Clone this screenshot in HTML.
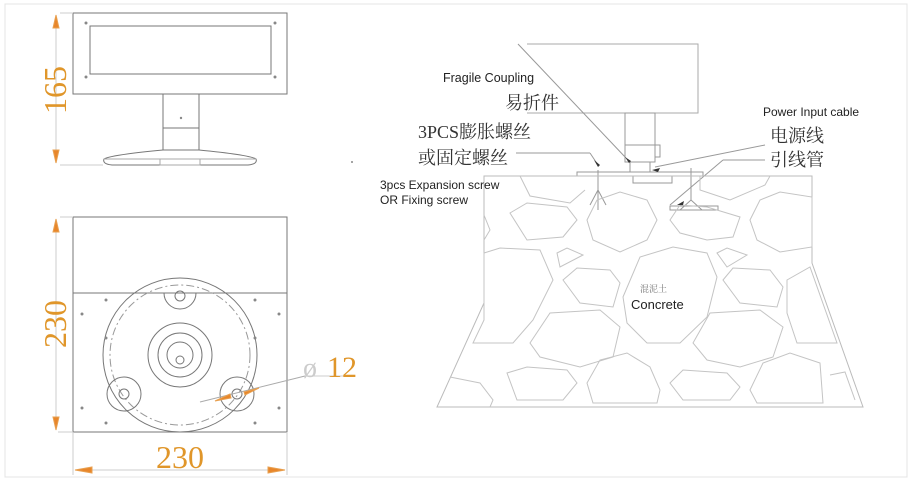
<!DOCTYPE html>
<html><head><meta charset="utf-8"><style>
html,body{margin:0;padding:0;background:#fff;}
svg{display:block;}
.s{font-family:"Liberation Sans","Noto Sans CJK SC",sans-serif;fill:#222;}
.c{font-family:"Liberation Serif","Noto Serif CJK SC",serif;fill:#333;}
.o{font-family:"Liberation Serif",serif;fill:#e0962a;}
</style></head><body>
<svg width="913" height="486" viewBox="0 0 913 486" xmlns="http://www.w3.org/2000/svg">
<rect x="5" y="4" width="902" height="473" fill="none" stroke="#e4e4e4" stroke-width="1"/>
<g fill="none" stroke="#777" stroke-width="1">
<rect x="73" y="13" width="214" height="81"/>
<rect x="90" y="26" width="181" height="48"/>
<rect x="163" y="94" width="36" height="56"/>
<line x1="163" y1="128" x2="199" y2="128"/>
<path d="M163 150 Q110 155 104 159 Q102 164 112 165 L248 165 Q258 164 256 159 Q250 155 199 150"/>
<line x1="104" y1="159" x2="256" y2="159" stroke="#aaa"/>
<rect x="160" y="159" width="40" height="6" stroke="#aaa"/>
<line x1="60" y1="165" x2="103" y2="165" stroke="#ccc"/>
<line x1="60" y1="13" x2="73" y2="13" stroke="#ccc"/>
<rect x="73" y="217" width="214" height="215"/>
<line x1="73" y1="293" x2="287" y2="293"/>
<circle cx="180" cy="355" r="77"/>
<circle cx="180" cy="355" r="70" stroke-dasharray="8 3 2 3" stroke="#999"/>
<circle cx="180" cy="355" r="32"/>
<circle cx="180" cy="355" r="22"/>
<circle cx="180" cy="355" r="13"/>
<circle cx="180" cy="360" r="4"/>
<path d="M164 293 A16 16 0 0 0 196 293"/>
<circle cx="180" cy="296" r="5"/>
<circle cx="124" cy="394" r="17"/><circle cx="124" cy="394" r="5"/>
<circle cx="237" cy="394" r="17"/><circle cx="237" cy="394" r="5"/>
<line x1="58" y1="432" x2="73" y2="432" stroke="#ccc"/>
<line x1="60" y1="217" x2="73" y2="217" stroke="#ccc"/>
<line x1="73" y1="432" x2="73" y2="475" stroke="#ccc"/>
<line x1="287" y1="432" x2="287" y2="475" stroke="#ccc"/>
<line x1="200" y1="402" x2="305" y2="376" stroke="#aaa"/>
<line x1="305" y1="376" x2="355" y2="376" stroke="#ccc"/>
</g>
<g fill="#888">
<circle cx="86" cy="23" r="1.5"/><circle cx="275" cy="23" r="1.5"/><circle cx="86" cy="77" r="1.5"/><circle cx="275" cy="77" r="1.5"/>
<circle cx="181" cy="118" r="1.2"/>
<circle cx="106" cy="300" r="1.5"/><circle cx="255" cy="300" r="1.5"/><circle cx="82" cy="314" r="1.5"/><circle cx="279" cy="314" r="1.5"/>
<circle cx="106" cy="338" r="1.5"/><circle cx="255" cy="338" r="1.5"/>
<circle cx="82" cy="408" r="1.5"/><circle cx="279" cy="408" r="1.5"/><circle cx="106" cy="423" r="1.5"/><circle cx="255" cy="423" r="1.5"/>
<circle cx="352" cy="162" r="1"/>
</g>
<g stroke="#e8a050" stroke-width="1" fill="#e8862a">
<line x1="56" y1="15" x2="56" y2="163" stroke="#ccc"/>
<polygon points="56,15 53,28 59,28"/><polygon points="56,163 53,150 59,150"/>
<line x1="56" y1="219" x2="56" y2="430" stroke="#ccc"/>
<polygon points="56,219 53,232 59,232"/><polygon points="56,430 53,417 59,417"/>
<line x1="75" y1="470" x2="285" y2="470" stroke="#ccc"/>
<polygon points="75,470 92,467 92,473"/><polygon points="285,470 268,467 268,473"/>
<polygon points="215,401 230,394 231,398"/><polygon points="259,388 244,392 245,395"/>
</g>
<text class="o" font-size="32" transform="translate(66,90) rotate(-90)" text-anchor="middle">165</text>
<text class="o" font-size="32" transform="translate(66,324) rotate(-90)" text-anchor="middle">230</text>
<text class="o" font-size="32" x="180" y="468" text-anchor="middle">230</text>
<text font-family="Liberation Serif,serif" font-size="28" fill="#ccc" x="303" y="377">ø</text>
<text class="o" font-size="30" x="327" y="377">12</text>

<g fill="none" stroke="#999" stroke-width="1">
<polyline points="527,44 698,44 698,113 527,113" stroke="#aaa"/>
<line x1="518" y1="44" x2="626" y2="158" stroke="#999"/>
<rect x="625" y="113" width="30" height="49"/>
<line x1="625" y1="145" x2="655" y2="145"/>
<rect x="655" y="145" width="5" height="12"/>
<rect x="577" y="172" width="126" height="4"/>
<line x1="630" y1="162" x2="630" y2="172"/><line x1="650" y1="162" x2="650" y2="172"/>
<path d="M633 176 L633 183 L672 183 L672 176"/>
<line x1="598" y1="170" x2="598" y2="210"/><line x1="598" y1="190" x2="590" y2="205"/><line x1="598" y1="190" x2="606" y2="205"/>
<line x1="691" y1="168" x2="691" y2="200"/><line x1="691" y1="200" x2="680" y2="210"/><line x1="691" y1="200" x2="702" y2="210"/>
<rect x="670" y="206" width="48" height="4"/>
<line x1="516" y1="153" x2="590" y2="153"/><line x1="590" y1="153" x2="598" y2="165"/>
<line x1="655" y1="167" x2="765" y2="145"/>
<line x1="670" y1="205" x2="723" y2="160"/><line x1="723" y1="160" x2="765" y2="160"/>
<path d="M484 176 L812 176 L812 263 L863 407 L437 407 L484 303 Z" stroke="#bbb"/>
</g>
<g fill="none" stroke="#c4c4c4" stroke-width="1">
<polygon points="510,213 527,203 567,207 577,220 563,237 527,240"/>
<polygon points="587,220 597,200 620,192 647,200 657,220 647,240 620,252 593,240"/>
<polygon points="670,220 680,205 707,207 740,217 733,237 707,240 680,233"/>
<polygon points="750,220 760,200 780,192 812,197 812,247 780,252 757,240"/>
<polygon points="623,297 640,257 673,247 707,253 717,277 707,317 680,343 647,343 627,323"/>
<polygon points="484,253 500,248 540,250 553,280 533,320 513,343 473,343 484,320"/>
<polygon points="557,253 567,248 583,255 560,267"/>
<polygon points="563,280 577,268 610,270 620,283 613,307 580,303"/>
<polygon points="530,343 550,313 600,310 620,327 613,357 580,367 540,357"/>
<polygon points="693,343 710,313 760,310 783,327 773,357 740,367 707,360"/>
<polygon points="723,280 733,268 770,270 783,287 777,307 740,303"/>
<polygon points="717,253 727,248 747,255 727,267"/>
<polygon points="507,373 527,367 567,370 577,383 563,400 517,400"/>
<polygon points="587,383 600,360 627,353 650,367 660,390 657,403 593,403"/>
<polygon points="670,383 683,370 727,373 740,387 730,400 683,400"/>
<polygon points="750,390 763,363 790,353 820,363 823,403 757,403"/>
<polygon points="787,280 810,267 837,343 797,343 787,313"/>
<polyline points="450,377 480,383 493,400 490,407"/>
<polyline points="830,375 845,372 855,400"/>
<polyline points="520,176 530,196 570,203 585,190"/>
<polyline points="700,176 700,190 730,200 765,185 770,176"/>
<polyline points="484,215 490,230 484,240"/>
</g>
<g fill="#333">
<polygon points="594,160 600,165 598,167"/><polygon points="625,157 631,161 629,163"/>
<polygon points="652,170 660,168 658,172"/><polygon points="677,205 684,201 683,205"/>
</g>
<text class="s" font-size="12.5" x="443" y="82">Fragile Coupling</text>
<text class="c" font-size="18" x="505" y="109">易折件</text>
<text class="c" font-size="18" x="418" y="138">3PCS膨胀螺丝</text>
<text class="c" font-size="18" x="418" y="164">或固定螺丝</text>
<text class="s" font-size="12" x="380" y="189">3pcs Expansion screw</text>
<text class="s" font-size="12" x="380" y="204">OR Fixing screw</text>
<text class="s" font-size="12" x="763" y="116">Power Input cable</text>
<text class="c" font-size="18" x="770" y="142">电源线</text>
<text class="c" font-size="18" x="770" y="166">引线管</text>
<text class="c" font-size="9" x="640" y="292" style="fill:#777">混泥土</text>
<text class="s" font-size="13" x="631" y="309">Concrete</text>
</svg>
</body></html>
